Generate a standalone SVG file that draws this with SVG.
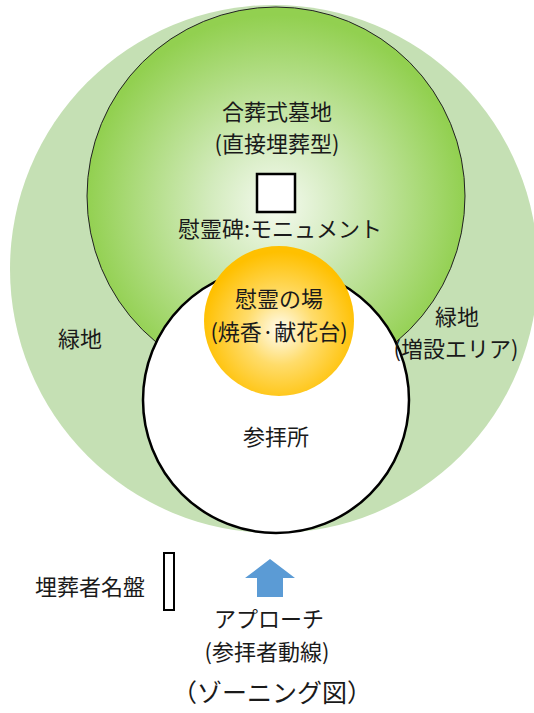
<svg xmlns="http://www.w3.org/2000/svg" width="534" height="713" viewBox="0 0 534 713">
<defs>
<style>
text{font-family:"Noto Sans CJK JP","Noto Sans",sans-serif;fill:#1a1a1a;text-anchor:middle;font-size:22px}
</style>
<radialGradient id="gGreen" cx="276" cy="205" r="190" gradientUnits="userSpaceOnUse">
<stop offset="0" stop-color="#f5faf0"/>
<stop offset="0.35" stop-color="#d3ebbd"/>
<stop offset="1" stop-color="#92d050"/>
</radialGradient>
<radialGradient id="gOrange" cx="280" cy="330" r="78" gradientUnits="userSpaceOnUse">
<stop offset="0" stop-color="#fffdf2"/>
<stop offset="0.45" stop-color="#ffdc6a"/>
<stop offset="1" stop-color="#ffc000"/>
</radialGradient>
</defs>
<rect width="534" height="713" fill="#ffffff"/>
<g id="outer-green">
<circle cx="274" cy="269" r="264" fill="#c5e0b4"/>
</g>
<g id="burial">
<circle cx="276" cy="196" r="189" fill="url(#gGreen)" stroke="#222" stroke-width="1"/>
<text x="277" y="120">合葬式墓地</text>
<text x="277" y="152">(直接埋葬型)</text>
</g>
<g id="worship">
<circle cx="276" cy="400" r="133" fill="#ffffff" stroke="#000" stroke-width="2.5"/>
<text x="276" y="445">参拝所</text>
</g>
<g id="monument">
<rect x="257" y="174" width="38" height="38" fill="#ffffff" stroke="#000" stroke-width="2.5"/>
<text x="280" y="237">慰霊碑:モニュメント</text>
</g>
<g id="memorial">
<circle cx="279" cy="321" r="75" fill="url(#gOrange)"/>
<text x="279" y="307">慰霊の場</text>
<text x="279" y="340">(焼香·献花台)</text>
</g>
<g id="green-labels">
<text x="80" y="347">緑地</text>
<text x="457" y="325">緑地</text>
<text x="456" y="357">(増設エリア)</text>
</g>
<g id="nameplate">
<rect x="164" y="553" width="10" height="57" fill="#ffffff" stroke="#000" stroke-width="2"/>
<text x="90" y="595">埋葬者名盤</text>
</g>
<g id="connectors">
<polygon points="270,559 295,578 283,578 283,597 257,597 257,578 245,578" fill="#5b9bd5"/>
</g>
<g id="approach">
<text x="269" y="627">アプローチ</text>
<text x="267" y="660">(参拝者動線)</text>
</g>
<g id="caption">
<text x="272" y="702" style="font-size:25px">（ゾーニング図）</text>
</g>
</svg>
